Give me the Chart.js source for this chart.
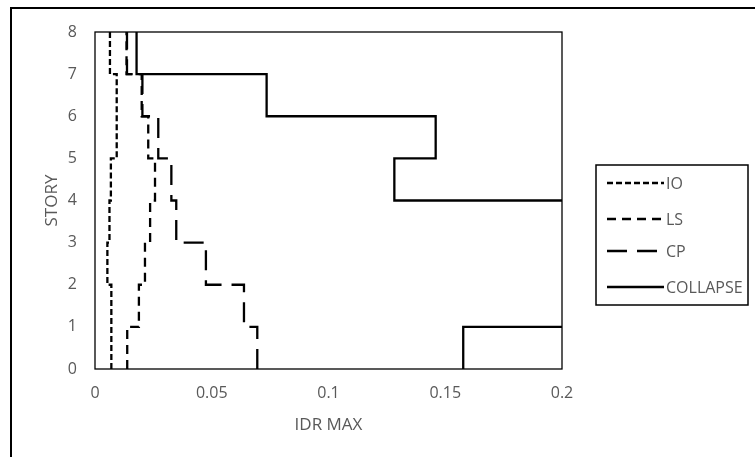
<!DOCTYPE html>
<html>
<head>
<meta charset="utf-8">
<script src="https://cdn.jsdelivr.net/npm/chart.js@4/dist/chart.umd.min.js"></script>
<style>
  body { margin: 0; background: #fff; }
  canvas { display: block; }
</style>
</head>
<body>
<canvas id="chart" width="755" height="457"></canvas>
<script>
// story levels and IDR max per story (value i spans story i .. i+1)
var stories = [0, 1, 2, 3, 4, 5, 6, 7, 8];
var seriesNames = ['IO', 'LS', 'CP', 'COLLAPSE'];
var ioValues = [0.0070, 0.0070, 0.0053, 0.0062, 0.0068, 0.0093, 0.0093, 0.0064];
var lsValues = [0.0138, 0.0188, 0.0214, 0.0236, 0.0257, 0.0228, 0.0200, 0.0135];
var cpValues = [0.0695, 0.0638, 0.0475, 0.0348, 0.0327, 0.0271, 0.0203, 0.0137];
var collapseValues = [0.1577, 0.25, 0.25, 0.25, 0.1282, 0.1459, 0.0735, 0.0178];
var xTickLabels = ['0', '0.05', '0.1', '0.15', '0.2'];
var yTickLabels = ['0', '1', '2', '3', '4', '5', '6', '7', '8'];

var grey = '#595959';

function steps(values) {
    var pts = [];
    values.forEach(function (v, i) {
        pts.push({x: v, y: stories[i]});
        pts.push({x: v, y: stories[i + 1]});
    });
    return pts;
}

function line(name, values, dash) {
    return {
        label: name,
        data: steps(values),
        showLine: true,
        borderColor: '#000',
        borderWidth: 2.3,
        borderDash: dash,
        pointRadius: 0,
        tension: 0,
        fill: false
    };
}

var framePlugin = {
    id: 'frame',
    afterDraw: function (chart) {
        var ctx = chart.ctx;
        var a = chart.chartArea;
        ctx.save();
        // outer frame (cut by the picture edges)
        ctx.strokeStyle = '#000';
        ctx.lineWidth = 2;
        ctx.strokeRect(11, 8, 900, 600);
        // plot area box
        ctx.lineWidth = 1.3;
        ctx.strokeRect(a.left, a.top, a.right - a.left, a.bottom - a.top);

        // legend
        var bx = 596, by = 165, bw = 152, bh = 140;
        ctx.lineWidth = 1.5;
        ctx.strokeRect(bx, by, bw, bh);
        var rows = [183, 219, 251, 287];
        ctx.font = '16px "Open Sans"';
        ctx.textBaseline = 'middle';
        chart.data.datasets.forEach(function (ds, i) {
            ctx.beginPath();
            ctx.setLineDash(ds.borderDash || []);
            ctx.lineWidth = ds.borderWidth;
            ctx.strokeStyle = ds.borderColor;
            ctx.moveTo(607, rows[i]);
            ctx.lineTo(664, rows[i]);
            ctx.stroke();
            ctx.setLineDash([]);
            ctx.fillStyle = grey;
            ctx.fillText(ds.label, 666, rows[i] + 1);
        });
        ctx.restore();
    }
};

new Chart(document.getElementById('chart'), {
    type: 'scatter',
    data: {
        datasets: [
            line(seriesNames[0], ioValues, [6, 3]),
            line(seriesNames[1], lsValues, [9, 6]),
            line(seriesNames[2], cpValues, [20, 10]),
            line(seriesNames[3], collapseValues, [])
        ]
    },
    options: {
        responsive: false,
        animation: false,
        layout: {padding: {top: 32, right: 193, left: 0, bottom: 0}},
        plugins: {legend: {display: false}, tooltip: {enabled: false}},
        scales: {
            x: {
                type: 'linear',
                min: 0,
                max: 0.2,
                afterFit: function (s) { s.height = 88; },
                grid: {display: false, drawTicks: false},
                border: {display: false},
                ticks: {
                    stepSize: 0.05,
                    padding: 15,
                    color: grey,
                    font: {family: 'Open Sans', size: 16},
                    callback: function (v, i) { return xTickLabels[i]; }
                },
                title: {
                    display: true,
                    text: 'IDR MAX',
                    color: grey,
                    font: {family: 'Open Sans', size: 17},
                    padding: {top: 0, bottom: 22}
                }
            },
            y: {
                type: 'linear',
                min: 0,
                max: 8,
                afterFit: function (s) { s.width = 95; },
                grid: {display: false, drawTicks: false},
                border: {display: false},
                ticks: {
                    stepSize: 1,
                    padding: 18,
                    color: grey,
                    font: {family: 'Open Sans', size: 16},
                    callback: function (v, i) { return yTickLabels[i]; }
                },
                title: {
                    display: true,
                    text: 'STORY',
                    color: grey,
                    font: {family: 'Open Sans', size: 17},
                    padding: {top: 42, bottom: 0}
                }
            }
        }
    },
    plugins: [framePlugin]
});
</script>
</body>
</html>
